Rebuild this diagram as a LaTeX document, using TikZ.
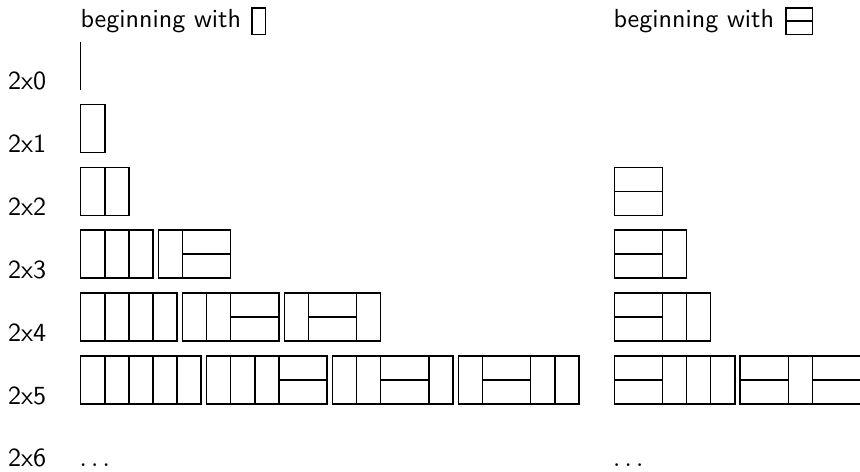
\documentclass[tikz,border=0pt]{standalone}
\renewcommand{\familydefault}{\sfdefault}
\tikzset{
  tile/.style={draw=black, line width=0.6pt},
  lbl/.style={anchor=base west, inner sep=0pt, font=\sffamily\fontsize{10pt}{12pt}\selectfont},
}
\newcommand\tiling[3]{%
  \xdef\tpos{#1}%
  \pgfmathsetmacro\ttop{41.5+62.9*#2}%
  \foreach \c in {#3}{%
    \if V\c
      \draw[tile] (\tpos,\ttop) rectangle ++(24.1,48);
      \pgfmathsetmacro\np{\tpos+24.1}\xdef\tpos{\np}%
    \fi
    \if H\c
      \draw[tile] (\tpos,\ttop) rectangle ++(48.2,48);
      \draw[tile] (\tpos,\ttop+24) -- ++(48.2,0);
      \pgfmathsetmacro\np{\tpos+48.2}\xdef\tpos{\np}%
    \fi
    \if G\c
      \pgfmathsetmacro\np{\tpos+5.4}\xdef\tpos{\np}%
    \fi
  }%
}
\begin{document}
\begin{tikzpicture}[x=0.383pt,y=-0.383pt]
\useasboundingbox (0,0) rectangle (860,471);
% titles
\node[lbl] (t1) at (80,27) {beginning with};
\draw[tile] (252,8) rectangle (265.5,34.5);
\node[lbl] (t2) at (613,27) {beginning with};
\draw[tile] (786,8) rectangle (812.5,34.5);
\draw[tile] (786,21.25) -- (812.5,21.25);
% row labels
\foreach \k in {0,...,6}{
  \pgfmathsetmacro\yb{89.5+62.9*\k}
  \node[lbl] (r\k) at (7.5,\yb) {2x\k};
}
% left column
\draw[tile] (80.7,41.5) -- (80.7,89.5);
\tiling{80.7}{1}{V}
\tiling{80.7}{2}{V,V}
\tiling{80.7}{3}{V,V,V,G,V,H}
\tiling{80.7}{4}{V,V,V,V,G,V,V,H,G,V,H,V}
\tiling{80.7}{5}{V,V,V,V,V,G,V,V,V,H,G,V,V,H,V,G,V,H,V,V}
% right column
\tiling{614.3}{2}{H}
\tiling{614.3}{3}{H,V}
\tiling{614.3}{4}{H,V,V}
\tiling{614.3}{5}{H,V,V,V,G,H,V,H}
% dots
\node[lbl] (d1) at (79,466.9) {$\ldots$};
\node[lbl] (d2) at (612.5,466.9) {$\ldots$};
\end{tikzpicture}
\end{document}
